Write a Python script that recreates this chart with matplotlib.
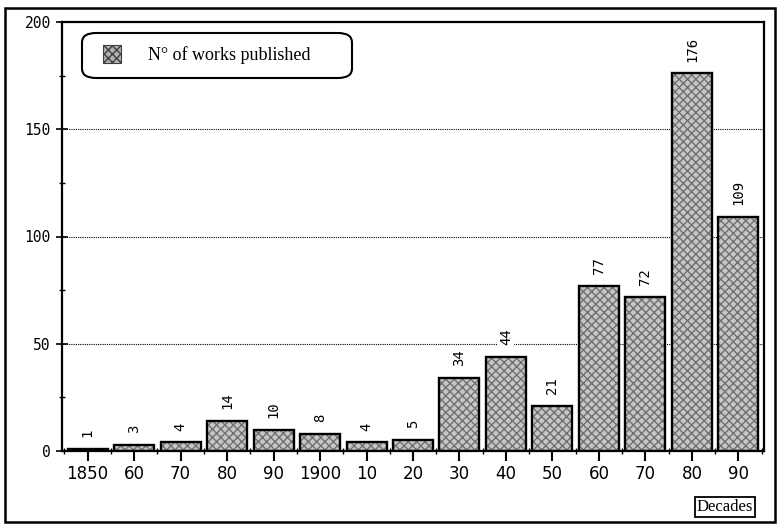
import matplotlib.pyplot as plt
from matplotlib.patches import Rectangle, FancyBboxPatch
from matplotlib.ticker import MultipleLocator
import numpy as np

# Data
decades = ['1850', '60', '70', '80', '90', '1900', '10', '20', '30', '40', '50', '60', '70', '80', '90']
works = [1, 3, 4, 14, 10, 8, 4, 5, 34, 44, 21, 77, 72, 176, 109]

x = np.arange(len(decades))

fig = plt.figure(figsize=(7.77, 5.25), dpi=100)
ax = fig.add_axes([62 / 777, 1 - 451 / 525, (764 - 62) / 777, (451 - 22) / 525])

# Bars: textured fill, then black outline
ax.bar(x, works, width=0.86, color='#c6c6c6', edgecolor='#707070', hatch='xxxx', linewidth=0, zorder=2)
ax.bar(x, works, width=0.86, color='none', edgecolor='black', linewidth=1.7, zorder=3)

# Value labels above bars (white backing breaks the grid line, as in the original)
for xi, v in zip(x, works):
    ax.text(xi, v + 5.5, str(v), rotation=90, ha='center', va='bottom', fontsize=10,
            family='DejaVu Sans Mono', zorder=4,
            bbox=dict(boxstyle='square,pad=0.1', facecolor='white', edgecolor='none'))

# Dotted grid
for g in [50, 100, 150]:
    ax.axhline(g, color='black', linestyle=(0, (1, 1)), linewidth=0.8, zorder=1)

ax.set_xlim(-0.55, 14.55)
ax.set_ylim(0, 200)
ax.set_xticks(x)
ax.set_xticklabels(decades, fontsize=12)
ax.set_yticks([0, 50, 100, 150, 200])
ax.set_yticklabels(['0', '50', '100', '150', '200'], family='DejaVu Sans Mono', fontsize=10.5)
ax.xaxis.set_minor_locator(MultipleLocator(1, offset=0.5))
ax.yaxis.set_minor_locator(MultipleLocator(25))
ax.tick_params(axis='x', which='major', direction='out', length=7, width=1.5, pad=3)
ax.tick_params(axis='x', which='minor', direction='inout', length=5, width=1)
ax.tick_params(axis='y', which='major', direction='inout', length=8, width=1.2, pad=4)
ax.tick_params(axis='y', which='minor', direction='inout', length=5, width=1)
for s in ax.spines.values():
    s.set_linewidth(1.6)

# Legend box
leg = FancyBboxPatch((82 / 777, 1 - 78 / 525), (352 - 82) / 777, (78 - 33) / 525,
                     boxstyle='round,pad=0,rounding_size=0.018', transform=fig.transFigure,
                     facecolor='white', edgecolor='black', linewidth=1.5, zorder=5)
fig.patches.append(leg)
fig.patches.append(Rectangle((103 / 777, 1 - 63 / 525), 18 / 777, 18 / 525, transform=fig.transFigure,
                             facecolor='#b0b0b0', edgecolor='#404040', hatch='xxxx', linewidth=0.8, zorder=6))
fig.text(148 / 777, 1 - 55.5 / 525, 'N° of works published', fontsize=13, family='Liberation Serif',
         va='center', ha='left', zorder=7)

# Axis label box
fig.text(725 / 777, 1 - 507 / 525, 'Decades', fontsize=12, family='Liberation Serif', ha='center', va='center',
         bbox=dict(boxstyle='square,pad=0.12', facecolor='white', edgecolor='black', linewidth=1.3))

# Outer border
fig.patches.append(Rectangle((5 / 777, 3 / 525), 770 / 777, 514 / 525, transform=fig.transFigure,
                             facecolor='none', edgecolor='black', linewidth=1.8))

fig.savefig('out.png', dpi=100)
